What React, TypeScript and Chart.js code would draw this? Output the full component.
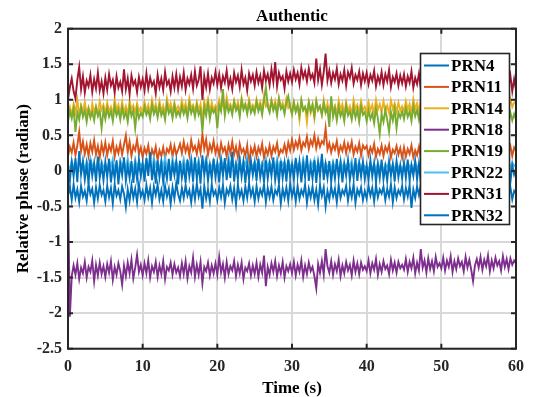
import { useEffect, useRef } from "react";
import { Chart, registerables } from "chart.js";

Chart.register(...registerables);

// time axis, one sample every 0.25 s from 0 to 60 s
const TIME: number[] = Array.from({ length: 241 }, (_, i) => i * 0.25);

const X_TICKS = [0, 10, 20, 30, 40, 50, 60];
const X_TICK_LABELS = ["0", "10", "20", "30", "40", "50", "60"];
const Y_TICKS = [-2.5, -2, -1.5, -1, -0.5, 0, 0.5, 1, 1.5, 2];
const Y_TICK_LABELS = ["-2.5", "-2", "-1.5", "-1", "-0.5", "0", "0.5", "1", "1.5", "2"];

const SERIES_NAMES = ["PRN4", "PRN11", "PRN14", "PRN18", "PRN19", "PRN22", "PRN31", "PRN32"];
const SERIES_COLORS = ["#0072BD", "#D95319", "#EDB120", "#7E2F8E", "#77AC30", "#4DBEEE", "#A2142F", "#0072BD"];

const PRN4 = [
  -0.35, -0.22, -0.41, -0.19, -0.38, -0.26, -0.44, -0.21, -0.36, -0.28, -0.42, -0.18, -0.33, -0.25, -0.45, -0.23, -0.39, -0.20, -0.34, -0.27,
  -0.43, -0.21, -0.37, -0.24, -0.46, -0.19, -0.35, -0.27, -0.40, -0.22, -0.32, -0.51, -0.26, -0.42, -0.20, -0.38, -0.25, -0.44, -0.18, -0.36,
  -0.28, -0.41, -0.20, -0.37, -0.24, -0.45, -0.22, -0.34, -0.19, -0.40, -0.27, -0.43, -0.21, -0.36, -0.25, -0.46, -0.23, -0.39, -0.17, -0.33,
  -0.42, -0.24, -0.38, -0.20, -0.35, -0.27, -0.44, -0.22, -0.40, -0.18, -0.36, -0.25, -0.53, -0.21, -0.39, -0.26, -0.43, -0.19, -0.34, -0.28,
  -0.41, -0.23, -0.37, -0.20, -0.45, -0.26, -0.33, -0.21, -0.40, -0.24, -0.47, -0.19, -0.36, -0.27, -0.42, -0.22, -0.38, -0.18, -0.35, -0.25,
  -0.43, -0.21, -0.39, -0.26, -0.34, -0.19, -0.44, -0.24, -0.37, -0.22, -0.41, -0.27, -0.33, -0.20, -0.46, -0.25, -0.38, -0.23, -0.42, -0.18,
  -0.36, -0.24, -0.43, -0.21, -0.39, -0.27, -0.34, -0.19, -0.45, -0.25, -0.37, -0.22, -0.41, -0.26, -0.47, -0.20, -0.35, -0.23, -0.50, -0.28,
  -0.40, -0.22, -0.36, -0.25, -0.44, -0.20, -0.38, -0.27, -0.33, -0.21, -0.42, -0.24, -0.37, -0.19, -0.45, -0.26, -0.34, -0.23, -0.41, -0.28,
  -0.39, -0.21, -0.35, -0.24, -0.43, -0.20, -0.37, -0.26, -0.32, -0.22, -0.41, -0.25, -0.36, -0.19, -0.44, -0.23, -0.38, -0.27, -0.33, -0.21,
  -0.40, -0.24, -0.36, -0.20, -0.52, -0.26, -0.38, -0.22, -0.34, -0.19, -0.42, -0.25, -0.37, -0.21, -0.43, -0.27, -0.35, -0.23, -0.39, -0.20,
  -0.37, -0.23, -0.41, -0.26, -0.34, -0.20, -0.44, -0.24, -0.38, -0.22, -0.35, -0.27, -0.42, -0.19, -0.36, -0.25, -0.40, -0.21, -0.33, -0.26,
  -0.41, -0.22, -0.37, -0.25, -0.43, -0.20, -0.35, -0.27, -0.39, -0.18, -0.44, -0.24, -0.36, -0.21, -0.42, -0.26, -0.34, -0.23, -0.40, -0.28,
  -0.32,
];

const PRN11 = [
  0.20, 0.34, 0.26, 0.40, 0.22, 0.36, 0.55, 0.28, 0.41, 0.24, 0.37, 0.21, 0.39, 0.27, 0.43, 0.23, 0.35, 0.19, 0.38, 0.25,
  0.40, 0.22, 0.36, 0.28, 0.42, 0.20, 0.34, 0.25, 0.39, 0.23, 0.37, 0.50, 0.26, 0.41, 0.21, 0.35, 0.29, 0.44, 0.24, 0.33,
  0.19, 0.32, 0.24, 0.36, 0.17, 0.30, 0.22, 0.34, 0.15, 0.29, 0.21, 0.33, 0.18, 0.31, 0.26, 0.37, 0.20, 0.35, 0.23, 0.30,
  0.38, 0.25, 0.41, 0.27, 0.36, 0.22, 0.43, 0.29, 0.35, 0.24, 0.40, 0.26, 0.52, 0.31, 0.44, 0.23, 0.37, 0.28, 0.42, 0.25,
  0.35, 0.22, 0.39, 0.27, 0.33, 0.20, 0.37, 0.25, 0.41, 0.23, 0.34, 0.19, 0.38, 0.26, 0.31, 0.21, 0.36, 0.08, 0.32, 0.24,
  0.35, 0.20, 0.33, 0.25, 0.38, 0.18, 0.31, 0.23, 0.36, 0.21, 0.34, 0.27, 0.39, 0.22, 0.30, 0.26, 0.37, 0.24, 0.40, 0.29,
  0.44, 0.30, 0.41, 0.33, 0.46, 0.29, 0.40, 0.35, 0.48, 0.31, 0.43, 0.36, 0.50, 0.32, 0.45, 0.34, 0.42, 0.38, 0.60, 0.30,
  0.39, 0.26, 0.37, 0.30, 0.42, 0.24, 0.35, 0.28, 0.40, 0.25, 0.38, 0.29, 0.41, 0.23, 0.34, 0.27, 0.39, 0.22, 0.36, 0.31,
  0.35, 0.22, 0.33, 0.26, 0.38, 0.20, 0.31, 0.24, 0.36, 0.21, 0.34, 0.27, 0.37, 0.19, 0.30, 0.25, 0.35, 0.23, 0.32, 0.18,
  0.33, 0.20, 0.31, 0.24, 0.36, 0.19, 0.29, 0.22, 0.34, 0.18, 0.32, 0.25, 0.35, 0.21, 0.28, 0.17, 0.33, 0.23, 0.30, 0.20,
  0.31, 0.19, 0.29, 0.23, 0.34, 0.17, 0.28, 0.21, 0.33, 0.18, 0.30, 0.24, 0.35, 0.20, 0.27, 0.16, 0.32, 0.22, 0.29, 0.19,
  0.33, 0.21, 0.30, 0.24, 0.36, 0.19, 0.31, 0.22, 0.34, 0.25, 0.29, 0.20, 0.37, 0.23, 0.32, 0.42, 0.26, 0.35, 0.21, 0.33,
  0.28,
];

const PRN14 = [
  0.80, 0.90, 0.78, 0.94, 0.82, 1.00, 0.79, 0.92, 0.84, 0.97, 0.81, 0.89, 0.77, 0.95, 0.83, 0.91, 0.80, 0.98, 0.86, 0.93,
  0.81, 0.96, 0.84, 0.90, 0.78, 1.01, 0.85, 0.93, 0.80, 0.97, 0.83, 0.91, 0.79, 0.99, 0.86, 0.92, 0.82, 0.95, 0.84, 0.89,
  0.82, 0.97, 0.85, 0.93, 0.79, 1.00, 0.86, 0.94, 0.81, 0.98, 0.84, 0.92, 0.80, 1.02, 0.87, 0.95, 0.83, 0.96, 0.85, 0.91,
  0.84, 0.99, 0.86, 0.95, 0.81, 1.02, 0.88, 0.93, 0.83, 0.97, 0.85, 0.94, 0.72, 0.98, 0.87, 1.01, 0.82, 0.96, 0.86, 0.92,
  0.86, 1.00, 0.88, 0.96, 0.83, 1.04, 0.90, 0.94, 0.85, 0.99, 0.87, 0.97, 0.82, 1.03, 0.89, 0.95, 0.84, 1.01, 0.88, 0.93,
  0.87, 1.01, 0.89, 0.97, 0.84, 1.05, 0.91, 0.95, 0.86, 1.00, 0.88, 0.98, 0.83, 1.03, 0.90, 0.96, 0.85, 1.02, 0.89, 0.94,
  0.80, 0.97, 0.84, 0.93, 0.72, 0.99, 0.86, 0.90, 0.68, 0.96, 0.82, 0.94, 0.74, 0.98, 0.85, 0.91, 0.79, 1.00, 0.83, 0.95,
  0.82, 0.96, 0.85, 0.92, 0.80, 0.99, 0.86, 0.94, 0.81, 0.97, 0.84, 0.91, 0.79, 1.00, 0.87, 0.93, 0.83, 0.98, 0.85, 0.90,
  0.83, 0.97, 0.85, 0.93, 0.80, 1.00, 0.86, 0.94, 0.82, 0.98, 0.84, 0.92, 0.81, 0.99, 0.87, 0.95, 0.83, 0.96, 0.85, 0.91,
  0.84, 0.98, 0.86, 0.94, 0.81, 1.01, 0.87, 0.95, 0.83, 0.99, 0.85, 0.93, 0.82, 1.00, 0.88, 0.96, 0.84, 0.97, 0.86, 0.92,
  0.86, 1.00, 0.88, 0.96, 0.83, 1.03, 0.89, 0.97, 0.85, 1.01, 0.87, 0.95, 0.84, 1.02, 0.90, 0.98, 0.86, 0.99, 0.88, 0.94,
  0.88, 1.02, 0.90, 0.98, 0.85, 1.05, 0.91, 0.99, 0.87, 1.03, 0.89, 0.97, 0.86, 1.04, 0.92, 1.08, 0.88, 1.01, 0.90, 0.96,
  0.98,
];

const PRN18 = [
  -0.30, -2.05, -1.48, -1.33, -1.46, -1.30, -1.52, -1.36, -1.44, -1.28, -1.50, -1.35, -1.42, -1.26, -1.55, -1.32, -1.47, -1.29, -1.45, -1.34,
  -1.49, -1.31, -1.43, -1.27, -1.53, -1.35, -1.46, -1.30, -1.41, -1.60, -1.33, -1.48, -1.29, -1.44, -1.25, -1.51, -1.36, -1.18, -1.42, -1.32,
  -1.47, -1.30, -1.44, -1.26, -1.50, -1.34, -1.42, -1.28, -1.49, -1.33, -1.45, -1.27, -1.52, -1.35, -1.40, -1.29, -1.46, -1.31, -1.43, -1.36,
  -1.48, -1.30, -1.45, -1.27, -1.51, -1.34, -1.43, -1.22, -1.49, -1.32, -1.46, -1.28, -1.58, -1.35, -1.41, -1.29, -1.47, -1.33, -1.44, -1.30,
  -1.46, -1.21, -1.43, -1.31, -1.50, -1.28, -1.45, -1.34, -1.40, -1.27, -1.48, -1.32, -1.44, -1.29, -1.52, -1.36, -1.41, -1.30, -1.47, -1.33,
  -1.45, -1.29, -1.49, -1.32, -1.43, -1.19, -1.62, -1.35, -1.46, -1.30, -1.42, -1.27, -1.48, -1.33, -1.44, -1.28, -1.50, -1.34, -1.41, -1.31,
  -1.44, -1.28, -1.47, -1.32, -1.42, -1.26, -1.49, -1.33, -1.45, -1.29, -1.41, -1.35, -1.48, -1.65, -1.31, -1.43, -1.27, -1.46, -1.10, -1.34,
  -1.43, -1.27, -1.46, -1.31, -1.41, -1.25, -1.48, -1.33, -1.44, -1.28, -1.40, -1.32, -1.47, -1.26, -1.42, -1.30, -1.45, -1.29, -1.39, -1.34,
  -1.41, -1.26, -1.44, -1.30, -1.39, -1.24, -1.46, -1.31, -1.42, -1.27, -1.38, -1.33, -1.45, -1.25, -1.40, -1.29, -1.43, -1.28, -1.37, -1.32,
  -1.39, -1.24, -1.42, -1.28, -1.37, -1.22, -1.44, -1.29, -1.40, -1.10, -1.36, -1.26, -1.43, -1.23, -1.38, -1.27, -1.41, -1.21, -1.35, -1.30,
  -1.37, -1.22, -1.40, -1.26, -1.35, -1.20, -1.42, -1.27, -1.38, -1.23, -1.34, -1.28, -1.41, -1.21, -1.36, -1.25, -1.39, -1.55, -1.33, -1.24,
  -1.36, -1.21, -1.39, -1.25, -1.34, -1.19, -1.41, -1.26, -1.37, -1.22, -1.33, -1.27, -1.40, -1.20, -1.35, -1.24, -1.38, -1.23, -1.32, -1.26,
  -1.30,
];

const PRN19 = [
  0.70, 0.84, 0.74, 0.88, 0.55, 0.82, 0.72, 0.90, 0.76, 0.85, 0.69, 0.87, 0.75, 0.83, 0.71, 0.89, 0.77, 0.84, 0.60, 0.86,
  0.73, 0.88, 0.76, 0.84, 0.70, 0.91, 0.78, 0.86, 0.72, 0.89, 0.75, 0.83, 0.69, 0.90, 0.77, 0.85, 0.60, 0.87, 0.74, 0.82,
  0.76, 0.90, 0.79, 0.86, 0.73, 0.93, 0.80, 0.88, 0.75, 0.91, 0.78, 0.85, 0.72, 0.94, 0.81, 0.87, 0.74, 0.92, 0.77, 0.84,
  0.77, 0.91, 0.80, 0.88, 0.74, 0.94, 0.81, 0.89, 0.76, 0.92, 0.79, 0.86, 0.55, 0.90, 0.78, 0.95, 0.73, 0.88, 0.82, 0.87,
  0.60, 0.92, 0.84, 1.15, 0.78, 0.95, 0.83, 0.90, 0.79, 0.97, 0.85, 0.91, 0.76, 0.99, 0.86, 0.93, 0.80, 0.96, 0.82, 0.89,
  0.81, 0.97, 0.84, 0.92, 0.79, 1.00, 1.18, 0.90, 0.82, 0.98, 0.85, 0.93, 0.78, 1.01, 0.87, 0.91, 0.80, 0.96, 1.05, 0.89,
  0.80, 0.96, 0.83, 0.92, 0.78, 0.99, 0.85, 0.90, 0.81, 0.97, 0.84, 0.93, 0.77, 0.98, 0.86, 0.91, 0.79, 0.95, 0.82, 0.88,
  0.62, 1.05, 0.76, 0.88, 0.71, 0.90, 0.77, 0.85, 0.70, 0.92, 0.78, 0.84, 0.72, 0.89, 0.75, 0.86, 0.69, 0.91, 0.79, 0.83,
  0.70, 0.85, 0.73, 0.81, 0.67, 0.88, 0.74, 0.52, 0.80, 0.69, 0.86, 0.72, 0.55, 0.83, 0.71, 0.87, 0.60, 0.82, 0.75, 0.84,
  0.73, 0.88, 0.76, 0.84, 0.70, 0.91, 0.77, 0.86, 0.72, 0.89, 0.75, 0.83, 0.69, 0.90, 0.78, 0.85, 0.74, 0.87, 0.71, 0.82,
  0.74, 0.89, 0.77, 0.85, 0.71, 0.92, 0.78, 0.87, 0.73, 0.90, 0.76, 0.84, 0.70, 0.91, 0.79, 0.86, 0.75, 0.88, 0.72, 0.83,
  0.73, 0.88, 0.76, 0.84, 0.70, 0.90, 0.77, 0.86, 0.72, 0.89, 0.75, 0.83, 0.69, 0.87, 0.74, 0.85, 0.68, 0.82, 0.71, 0.80,
  0.72,
];

const PRN22 = [
  0.08, 0.02, 0.15, 0.05, 0.11, -0.03, 0.17, 0.06, 0.12, 0.00, 0.14, 0.04, 0.18, 0.07, 0.10, -0.02, 0.16, 0.03, 0.13, 0.05,
  0.09, 0.01, 0.14, 0.06, 0.17, 0.02, 0.11, -0.04, 0.15, 0.07, 0.12, 0.03, 0.18, 0.05, 0.10, -0.01, 0.16, 0.04, 0.13, 0.08,
  0.10, 0.03, 0.16, 0.06, 0.12, 0.00, 0.18, 0.07, 0.13, 0.02, 0.15, 0.05, 0.19, 0.04, 0.11, -0.02, 0.17, 0.06, 0.14, 0.01,
  0.12, 0.05, 0.17, 0.03, 0.14, 0.07, 0.19, 0.02, 0.11, 0.06, 0.16, 0.00, 0.13, 0.08, 0.18, 0.04, 0.10, 0.05, 0.15, 0.02,
  0.11, 0.04, 0.18, 0.06, 0.13, 0.01, 0.20, 0.07, 0.15, 0.03, 0.12, 0.05, 0.17, 0.00, 0.14, 0.08, 0.19, 0.02, 0.10, 0.06,
  0.13, 0.05, 0.16, 0.02, 0.12, 0.07, 0.18, 0.03, 0.14, 0.06, 0.11, 0.04, 0.17, 0.01, 0.15, 0.08, 0.13, 0.02, 0.16, 0.05,
  0.10, 0.04, 0.15, 0.06, 0.12, 0.01, 0.17, 0.05, 0.11, 0.03, 0.14, 0.07, 0.16, 0.00, 0.13, 0.04, 0.18, 0.02, 0.12, 0.06,
  0.09, 0.02, 0.13, 0.05, 0.10, -0.01, 0.14, 0.04, 0.11, 0.03, 0.12, 0.06, 0.15, 0.00, 0.10, 0.05, 0.13, 0.01, 0.11, 0.04,
  0.07, 0.01, 0.11, 0.04, 0.09, -0.02, 0.12, 0.03, 0.08, 0.00, 0.10, 0.05, 0.13, -0.01, 0.09, 0.02, 0.11, 0.04, 0.08, 0.01,
  0.08, 0.02, 0.12, 0.05, 0.09, -0.01, 0.13, 0.03, 0.10, 0.01, 0.11, 0.06, 0.14, 0.00, 0.09, 0.04, 0.12, 0.02, 0.10, 0.05,
  0.09, 0.03, 0.13, 0.06, 0.10, 0.00, 0.14, 0.04, 0.11, 0.02, 0.12, 0.07, 0.15, 0.01, 0.10, 0.05, 0.13, 0.03, 0.11, 0.06,
  0.10, 0.04, 0.14, 0.07, 0.11, 0.01, 0.15, 0.05, 0.12, 0.03, 0.13, 0.08, 0.16, 0.02, 0.11, 0.06, 0.14, 0.04, 0.12, 0.07,
  0.09,
];

const PRN31 = [
  1.00, 1.18, 1.30, 1.12, 1.02, 1.28, 1.46, 1.15, 1.33, 1.10, 1.27, 1.19, 1.35, 1.11, 1.29, 1.16, 1.38, 1.13, 1.26, 1.09,
  1.31, 1.14, 1.36, 1.20, 1.28, 1.10, 1.33, 1.17, 1.25, 1.12, 1.43, 1.15, 1.30, 1.08, 1.34, 1.21, 1.27, 1.11, 1.32, 1.18,
  1.29, 1.13, 1.37, 1.16, 1.31, 1.20, 1.26, 1.09, 1.35, 1.18, 1.30, 1.14, 1.39, 1.21, 1.27, 1.12, 1.33, 1.17, 1.36, 1.15,
  1.32, 1.19, 1.38, 1.14, 1.30, 1.22, 1.35, 1.16, 1.40, 1.20, 1.28, 1.47, 1.00, 1.33, 1.18, 1.37, 1.15, 1.31, 1.23, 1.39,
  1.21, 1.36, 1.17, 1.33, 1.24, 1.41, 1.19, 1.30, 1.15, 1.38, 1.25, 1.34, 1.18, 1.42, 1.22, 1.31, 1.13, 1.37, 1.26, 1.35,
  1.20, 1.39, 1.24, 1.34, 1.17, 1.41, 1.27, 1.36, 1.21, 1.43, 1.25, 1.53, 1.19, 1.38, 1.28, 1.33, 1.16, 1.40, 1.26, 1.37,
  1.25, 1.42, 1.29, 1.38, 1.22, 1.45, 1.31, 1.40, 1.26, 1.44, 1.30, 1.36, 1.24, 1.58, 1.28, 1.43, 1.21, 1.39, 1.65, 1.27,
  1.41, 1.24, 1.38, 1.29, 1.44, 1.22, 1.36, 1.27, 1.42, 1.20, 1.39, 1.31, 1.45, 1.23, 1.35, 1.28, 1.40, 1.21, 1.37, 1.26,
  1.38, 1.22, 1.35, 1.27, 1.41, 1.19, 1.33, 1.24, 1.39, 1.21, 1.36, 1.26, 1.42, 1.18, 1.32, 1.25, 1.37, 1.20, 1.34, 1.23,
  1.36, 1.19, 1.33, 1.24, 1.40, 1.17, 1.31, 1.22, 1.37, 1.15, 1.34, 1.25, 1.39, 1.20, 1.30, 1.18, 1.35, 1.23, 1.32, 1.16,
  1.37, 1.21, 1.34, 1.18, 1.39, 1.24, 1.31, 1.16, 1.36, 1.22, 1.33, 1.19, 1.40, 1.25, 1.30, 1.17, 1.35, 1.23, 1.38, 1.20,
  1.32, 1.18, 1.37, 1.24, 1.30, 1.15, 1.36, 1.22, 1.39, 1.20, 1.33, 1.17, 1.35, 1.25, 1.31, 1.54, 1.19, 1.34, 1.12, 1.29,
  1.14,
];

const PRN32 = [
  0.05, -0.14, 0.12, -0.08, 0.18, -0.16, 0.28, -0.05, 0.14, -0.12, 0.09, -0.18, 0.16, -0.07, 0.11, -0.15, 0.20, -0.10, 0.08, -0.13,
  0.13, -0.09, 0.17, -0.16, 0.06, -0.11, 0.15, -0.19, 0.10, -0.06, 0.19, -0.14, 0.07, -0.10, 0.14, -0.17, 0.09, -0.12, 0.16, -0.08,
  0.11, -0.15, 0.18, -0.07, 0.26, -0.13, 0.08, -0.18, 0.15, -0.09, 0.12, -0.16, 0.06, -0.11, 0.17, -0.14, 0.10, -0.06, 0.13, -0.19,
  0.14, -0.10, 0.07, -0.17, 0.16, -0.08, 0.12, -0.15, 0.19, -0.12, 0.09, -0.18, 0.22, -0.06, 0.13, -0.14, 0.08, -0.11, 0.17, -0.09,
  0.10, -0.16, 0.15, -0.07, 0.18, -0.13, 0.11, -0.10, 0.27, -0.15, 0.08, -0.12, 0.16, -0.08, 0.13, -0.17, 0.09, -0.11, 0.14, -0.06,
  0.12, -0.14, 0.17, -0.09, 0.07, -0.16, 0.15, -0.11, 0.10, -0.07, 0.19, -0.13, 0.08, -0.18, 0.14, -0.10, 0.11, -0.15, 0.16, -0.08,
  0.09, -0.12, 0.18, -0.07, 0.13, -0.16, 0.10, -0.09, 0.22, -0.14, 0.07, -0.11, 0.15, -0.17, 0.12, -0.08, 0.24, -0.13, 0.09, -0.10,
  0.14, -0.15, 0.08, -0.11, 0.17, -0.09, 0.12, -0.16, 0.10, -0.07, 0.15, -0.13, 0.06, -0.10, 0.18, -0.14, 0.11, -0.08, 0.13, -0.12,
  0.07, -0.13, 0.15, -0.08, 0.11, -0.16, 0.09, -0.10, 0.16, -0.12, 0.06, -0.14, 0.13, -0.07, 0.10, -0.15, 0.14, -0.09, 0.08, -0.11,
  0.12, -0.10, 0.16, -0.14, 0.08, -0.07, 0.14, -0.12, 0.10, -0.16, 0.21, -0.09, 0.07, -0.13, 0.15, -0.08, 0.11, -0.15, 0.09, -0.06,
  0.13, -0.11, 0.08, -0.14, 0.16, -0.07, 0.10, -0.12, 0.14, -0.09, 0.06, -0.15, 0.12, -0.08, 0.17, -0.13, 0.09, -0.10, 0.15, -0.07,
  0.11, -0.13, 0.14, -0.08, 0.07, -0.15, 0.16, -0.10, 0.09, -0.12, 0.13, -0.06, 0.18, -0.14, 0.10, -0.09, 0.12, -0.16, 0.08, -0.05,
  0.03,
];

const SERIES_VALUES = [PRN4, PRN11, PRN14, PRN18, PRN19, PRN22, PRN31, PRN32];

const FONT = "'Liberation Serif', 'Times New Roman', serif";
const AXIS_COLOR = "#262626";

const decorations = {
  id: "matlabDecor",
  beforeDraw(chart: any) {
    const ctx = chart.ctx;
    ctx.save();
    ctx.fillStyle = "#ffffff";
    ctx.fillRect(0, 0, chart.width, chart.height);
    ctx.restore();
  },
  afterDatasetsDraw(chart: any) {
    const ctx = chart.ctx;
    const { left, right, top, bottom } = chart.chartArea;
    const xs = chart.scales.x;
    const ys = chart.scales.y;
    ctx.save();
    // axes box
    ctx.strokeStyle = AXIS_COLOR;
    ctx.lineWidth = 2;
    ctx.strokeRect(left, top, right - left, bottom - top);
    // inward ticks
    ctx.beginPath();
    const tl = 5;
    X_TICKS.forEach((v) => {
      const px = xs.getPixelForValue(v);
      ctx.moveTo(px, bottom);
      ctx.lineTo(px, bottom - tl);
      ctx.moveTo(px, top);
      ctx.lineTo(px, top + tl);
    });
    Y_TICKS.forEach((v) => {
      const py = ys.getPixelForValue(v);
      ctx.moveTo(left, py);
      ctx.lineTo(left + tl, py);
      ctx.moveTo(right, py);
      ctx.lineTo(right - tl, py);
    });
    ctx.stroke();

    // legend
    const lx = 420.5, ly = 53.5, lw = 89, lh = 171;
    ctx.fillStyle = "#ffffff";
    ctx.fillRect(lx, ly, lw, lh);
    ctx.strokeStyle = AXIS_COLOR;
    ctx.lineWidth = 1.6;
    ctx.strokeRect(lx, ly, lw, lh);
    ctx.font = `bold 17px ${FONT}`;
    ctx.textBaseline = "middle";
    ctx.textAlign = "left";
    SERIES_NAMES.forEach((name, i) => {
      const cy = 65.5 + i * 21.4;
      ctx.strokeStyle = SERIES_COLORS[i];
      ctx.lineWidth = 2;
      ctx.beginPath();
      ctx.moveTo(424, cy);
      ctx.lineTo(449, cy);
      ctx.stroke();
      ctx.fillStyle = "#000000";
      ctx.fillText(name, 451, cy + 1);
    });

    // title and axis labels
    ctx.fillStyle = "#000000";
    ctx.font = `bold 17px ${FONT}`;
    ctx.textAlign = "center";
    ctx.textBaseline = "alphabetic";
    ctx.fillText("Authentic", (left + right) / 2, 20.7);
    ctx.fillText("Time (s)", (left + right) / 2, 393);
    ctx.save();
    ctx.translate(28, (top + bottom) / 2);
    ctx.rotate(-Math.PI / 2);
    ctx.fillText("Relative phase (radian)", 0, 0);
    ctx.restore();
    ctx.restore();
  },
};

export default function App() {
  const canvasRef = useRef<HTMLCanvasElement | null>(null);

  useEffect(() => {
    if (!canvasRef.current) return;
    const datasets = SERIES_NAMES.map((name, i) => ({
      label: name,
      data: SERIES_VALUES[i].map((v, k) => ({ x: TIME[k], y: v })),
      borderColor: SERIES_COLORS[i],
      backgroundColor: SERIES_COLORS[i],
      borderWidth: 1.9,
      pointRadius: 0,
      tension: 0,
      fill: false,
      order: SERIES_NAMES.length - i,
    }));

    const chart = new Chart(canvasRef.current, {
      type: "line",
      data: { datasets },
      options: {
        responsive: false,
        animation: false,
        events: [],
        layout: { padding: { top: 28.7, right: 10, left: 0, bottom: 0 } },
        plugins: {
          legend: { display: false },
          title: { display: false },
          tooltip: { enabled: false },
        },
        scales: {
          x: {
            type: "linear",
            min: 0,
            max: 60,
            afterBuildTicks: (scale: any) => {
              scale.ticks = X_TICKS.map((v) => ({ value: v }));
            },
            afterFit: (scale: any) => {
              scale.height = 48.3;
            },
            ticks: {
              autoSkip: false,
              maxRotation: 0,
              padding: 9,
              color: "#262626",
              font: { family: FONT, size: 16, weight: "bold" },
              callback: (_v: any, index: number) => X_TICK_LABELS[index],
            },
            grid: { color: "#d9d9d9", lineWidth: 2, drawTicks: false },
            border: { display: false },
          },
          y: {
            type: "linear",
            min: -2.5,
            max: 2,
            afterBuildTicks: (scale: any) => {
              scale.ticks = Y_TICKS.map((v) => ({ value: v }));
            },
            afterFit: (scale: any) => {
              scale.width = 68;
            },
            ticks: {
              autoSkip: false,
              padding: 6,
              color: "#262626",
              font: { family: FONT, size: 16, weight: "bold" },
              callback: (_v: any, index: number) => Y_TICK_LABELS[index],
            },
            grid: { color: "#d9d9d9", lineWidth: 2, drawTicks: false },
            border: { display: false },
          },
        },
      } as any,
      plugins: [decorations],
    });
    return () => chart.destroy();
  }, []);

  return (
    <div style={{ position: "fixed", left: 0, top: 0, width: 533, height: 397, background: "#fff" }}>
      <canvas ref={canvasRef} width={533} height={397} style={{ display: "block" }} />
    </div>
  );
}
